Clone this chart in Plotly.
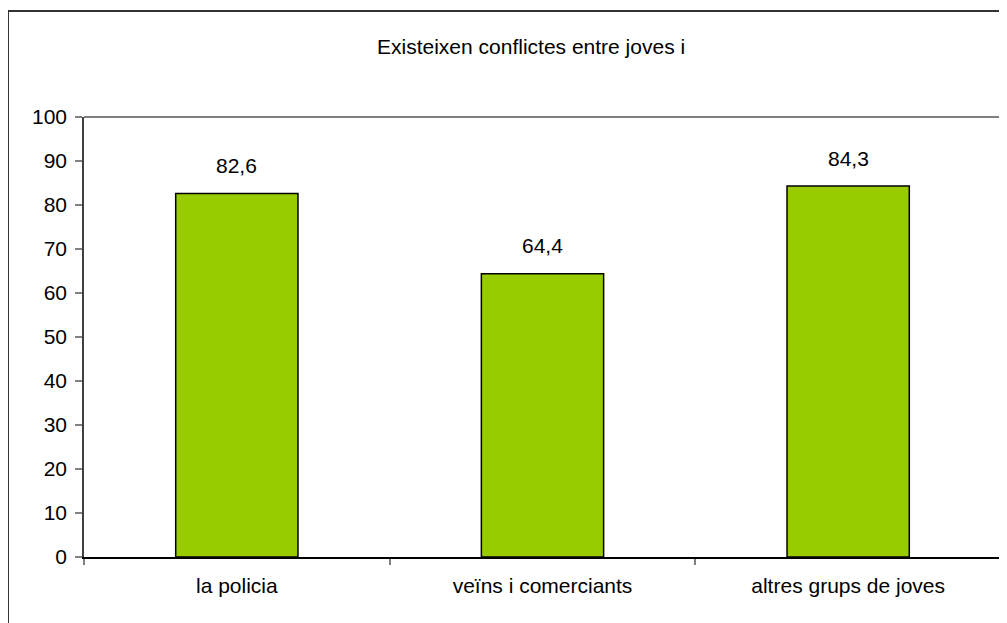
import plotly.graph_objects as go

categories = ["la policia", "veïns i comerciants", "altres grups de joves"]
values = [82.6, 64.4, 84.3]
title_text = "Existeixen conflictes entre joves i"
y_ticks = list(range(0, 101, 10))

FONT = "Arial, Liberation Sans, sans-serif"
# page body has an 8px margin; figure coordinates are offset by it
OFF = 8
W, H = 1007 - OFF, 623 - OFF
ML, MT = 84 - OFF, 117 - OFF
PR, PB = 1001 - OFF, 557 - OFF
MR, MB = W - PR, H - PB
PW, PH = W - ML - MR, H - MT - MB

fig = go.Figure()
fig.add_trace(go.Bar(
    x=categories, y=values, width=0.4,
    marker=dict(color="#99CC00", line=dict(color="#000000", width=1.5)),
    hoverinfo="skip",
))

for c, v in zip(categories, values):
    fig.add_annotation(
        x=c, y=v, xref="x", yref="y",
        text=f"{v:.1f}".replace(".", ","),
        showarrow=False, yanchor="middle", yshift=28,
        font=dict(family=FONT, size=21, color="#000000"),
    )

# outer chart frame
fig.add_shape(type="rect", xref="paper", yref="paper",
              x0=(8 - OFF - ML) / PW, x1=1.02, y0=-0.3, y1=1 + (MT - (11 - OFF)) / PH,
              line=dict(color="#333333", width=2), fillcolor="rgba(0,0,0,0)", layer="below")
# top border of plot area
fig.add_shape(type="line", xref="paper", yref="paper", x0=0, x1=1, y0=1, y1=1,
              line=dict(color="#808080", width=2))
# right border
fig.add_shape(type="line", xref="paper", yref="paper", x0=1, x1=1, y0=0, y1=1,
              line=dict(color="#8c8c8c", width=2.5))

fig.update_layout(
    width=W, height=H,
    margin=dict(l=ML, r=MR, t=MT, b=MB),
    paper_bgcolor="white", plot_bgcolor="white",
    showlegend=False,
    title=dict(text=title_text, x=(377 - OFF) / W, xref="container", y=1 - (47 - OFF) / H,
               yanchor="middle", xanchor="left",
               font=dict(family=FONT, size=21, color="#000000")),
    font=dict(family=FONT, size=21, color="#000000"),
    xaxis=dict(
        showline=True, linecolor="#000000", linewidth=1.5,
        ticks="outside", tickson="boundaries", ticklen=6, tickcolor="#808080", tickwidth=1.5,
        ticklabelstandoff=9,
        showgrid=False, zeroline=False,
        tickfont=dict(family=FONT, size=21, color="#000000"),
    ),
    yaxis=dict(
        range=[0, 100], tickvals=y_ticks,
        showline=True, linecolor="#404040", linewidth=1.5,
        ticks="outside", ticklen=7, tickcolor="#808080", tickwidth=1.5,
        ticklabelstandoff=4,
        showgrid=False, zeroline=False,
        tickfont=dict(family=FONT, size=21, color="#000000"),
    ),
)

fig.write_html("out.html")
